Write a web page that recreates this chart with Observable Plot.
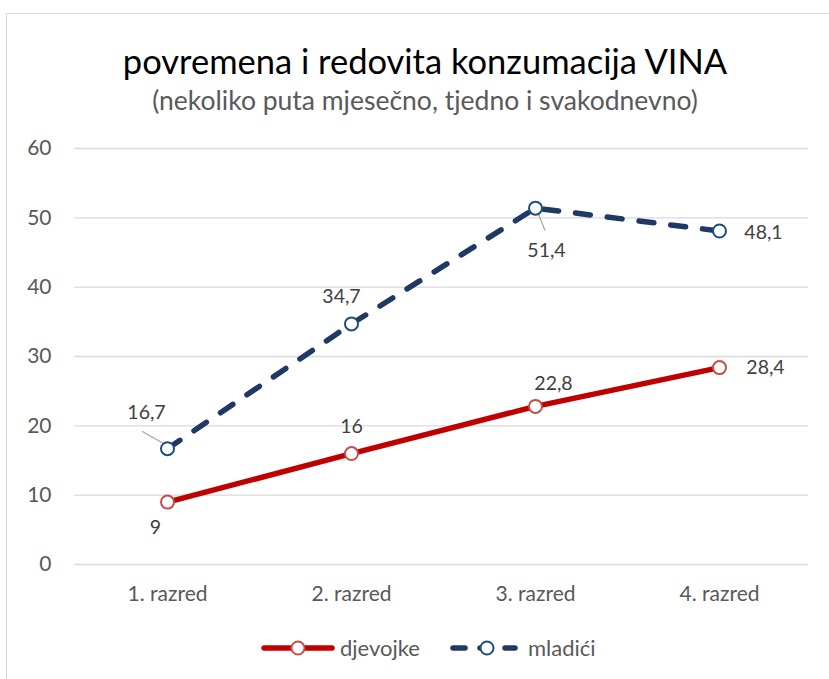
<!DOCTYPE html>
<html>
<head>
<meta charset="utf-8">
<script src="https://cdn.jsdelivr.net/npm/d3@7"></script>
<script src="https://cdn.jsdelivr.net/npm/@observablehq/plot@0.6"></script>
<style>
  html, body { margin: 0; padding: 0; background: #fff; }
  body { font-family: Lato, "Noto Sans", sans-serif; }
  #wrap { position: relative; width: 829px; height: 679px; overflow: hidden; }
  #frame { position: absolute; left: 6px; top: 13px; width: 840px; height: 700px; border: 1px solid #d9d9d9; box-sizing: border-box; }
  #title { position: absolute; left: 0; width: 850px; top: 44px; text-align: center; font-size: 34.5px; color: #000; line-height: 1; }
  #subtitle { position: absolute; left: 0; width: 850px; top: 87px; text-align: center; font-size: 26.5px; color: #595959; line-height: 1; }
  #chart { position: absolute; left: 0; top: 120px; }
  #legend { position: absolute; left: 0; top: 634px; width: 829px; height: 30px; }
</style>
</head>
<body>
<div id="wrap">
  <div id="frame"></div>
  <div id="title"></div>
  <div id="subtitle"></div>
  <div id="chart"></div>
  <svg id="legend" width="829" height="30"></svg>
</div>
<script>
const titleText = "povremena i redovita konzumacija VINA";
const subtitleText = "(nekoliko puta mjesečno, tjedno i svakodnevno)";
const categories = ["1. razred", "2. razred", "3. razred", "4. razred"];
const seriesNames = ["djevojke", "mladići"];
const djevojke = [9, 16, 22.8, 28.4];
const mladici = [16.7, 34.7, 51.4, 48.1];
const yTicks = [0, 10, 20, 30, 40, 50, 60];

const fmt = v => String(v).replace(".", ",");

const rows = [];
categories.forEach((c, i) => {
  rows.push({cat: c, series: seriesNames[0], value: djevojke[i], i});
  rows.push({cat: c, series: seriesNames[1], value: mladici[i], i});
});
const girls = rows.filter(d => d.series === seriesNames[0]);
const boys = rows.filter(d => d.series === seriesNames[1]);

// label placement (pixel offsets), styling only
const girlOff = [[-12, 26], [0, -27], [18, -23], [46, 0]];
const boyOff = [[-21, -36], [-10, -27], [11, 43], [44, 2]];
const leaderIdx = [0, 2]; // boys labels that get a leader line
const leaderVec = {0: [[-4, -5], [-25, -17]], 2: [[3, 5], [10, 23]]};

document.getElementById("title").textContent = titleText;
document.getElementById("subtitle").textContent = subtitleText;

const red = "#c00000", redMarker = "#c0504d";
const blue = "#203864", blueMarker = "#1f4e79";
const ff = "Lato, 'Noto Sans', sans-serif";

const leaders = (index, scales) => {
  const g = d3.create("svg:g");
  leaderIdx.forEach(i => {
    const d = boys[i];
    const x = scales.x(d.cat), y = scales.y(d.value);
    const [a, b] = leaderVec[i];
    g.append("line")
      .attr("x1", x + a[0]).attr("y1", y + a[1])
      .attr("x2", x + b[0]).attr("y2", y + b[1])
      .attr("stroke", "#a6a6a6").attr("stroke-width", 1.3);
  });
  return g.node();
};

const plot = Plot.plot({
  width: 829,
  height: 500,
  marginLeft: 74,
  marginRight: 17,
  marginTop: 28,
  marginBottom: 56,
  style: {fontFamily: ff, background: "transparent", overflow: "visible"},
  x: {type: "point", domain: categories, padding: 0.5, label: null},
  y: {domain: [0, 60], label: null},
  marks: [
    Plot.ruleY(yTicks, {stroke: "#d9d9d9", strokeWidth: 1.3, strokeOpacity: 1, insetRight: 4}),
    Plot.axisY(yTicks, {tickSize: 0, tickPadding: 23, fontSize: 21, fill: "#595959", label: null}),
    Plot.axisX({tickSize: 0, tickPadding: 22, fontSize: 21, fill: "#595959", label: null}),
    Plot.line(girls, {x: "cat", y: "value", stroke: red, strokeWidth: 5.5, strokeLinecap: "round"}),
    Plot.line(boys, {x: "cat", y: "value", stroke: blue, strokeWidth: 5.5, strokeDasharray: "15,17", strokeLinecap: "round"}),
    leaders,
    Plot.dot(girls, {x: "cat", y: "value", r: 6.5, fill: "white", stroke: redMarker, strokeWidth: 2}),
    Plot.dot(boys, {x: "cat", y: "value", r: 6.5, fill: "white", stroke: blueMarker, strokeWidth: 2}),
    ...girls.map((d, k) => Plot.text([d], {x: "cat", y: "value", text: dd => fmt(dd.value), dx: girlOff[k][0], dy: girlOff[k][1], fontSize: 19.5, fill: "#404040"})),
    ...boys.map((d, k) => Plot.text([d], {x: "cat", y: "value", text: dd => fmt(dd.value), dx: boyOff[k][0], dy: boyOff[k][1], fontSize: 19.5, fill: "#404040"}))
  ]
});
document.getElementById("chart").appendChild(plot);

// legend
const lg = d3.select("#legend");
const ly = 14;
lg.append("line").attr("x1", 264).attr("x2", 332).attr("y1", ly).attr("y2", ly).attr("stroke", red).attr("stroke-width", 5.5).attr("stroke-linecap", "round");
lg.append("circle").attr("cx", 298).attr("cy", ly).attr("r", 6.5).attr("fill", "white").attr("stroke", redMarker).attr("stroke-width", 2);
lg.append("text").attr("x", 340).attr("y", ly).attr("dy", "0.35em").attr("font-size", 22).attr("fill", "#595959").attr("font-family", ff).text(seriesNames[0]);
lg.append("line").attr("x1", 453).attr("x2", 465).attr("y1", ly).attr("y2", ly).attr("stroke", blue).attr("stroke-width", 5.5).attr("stroke-linecap", "round");
lg.append("line").attr("x1", 480).attr("x2", 482).attr("y1", ly).attr("y2", ly).attr("stroke", blue).attr("stroke-width", 5.5).attr("stroke-linecap", "round");
lg.append("line").attr("x1", 505).attr("x2", 515).attr("y1", ly).attr("y2", ly).attr("stroke", blue).attr("stroke-width", 5.5).attr("stroke-linecap", "round");
lg.append("circle").attr("cx", 487).attr("cy", ly).attr("r", 6.5).attr("fill", "white").attr("stroke", blueMarker).attr("stroke-width", 2);
lg.append("text").attr("x", 528).attr("y", ly).attr("dy", "0.35em").attr("font-size", 22).attr("fill", "#595959").attr("font-family", ff).text(seriesNames[1]);
</script>
</body>
</html>
